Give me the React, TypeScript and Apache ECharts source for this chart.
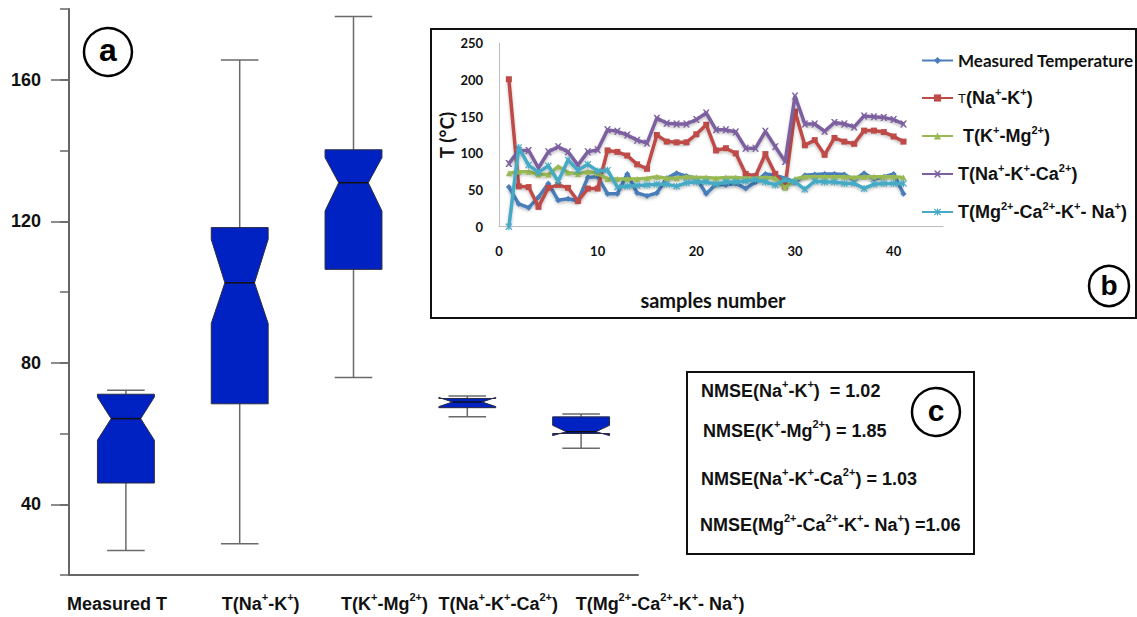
import React, { useEffect, useRef } from 'react';
import * as echarts from 'echarts';

// ---------- Box plot (a) ----------
const boxCategories = ['Measured T', 'T(Na+-K+)', 'T(K+-Mg2+)', 'T(Na+-K+-Ca2+)', 'T(Mg2+-Ca2+-K+- Na+)'];
const boxCategoryLabels = [
  '{r1|Measured T}',
  '{l2|T(Na}{s|+}{n|-K}{s|+}{n|)}',
  '{l3|T(K}{s|+}{n|-Mg}{s|2+}{n|)}',
  '{l4|T(Na}{s|+}{n|-K}{s|+}{n|-Ca}{s|2+}{n|)}',
  '{l5|T(Mg}{s|2+}{n|-Ca}{s|2+}{n|-K}{s|+}{n|- Na}{s|+}{n|)}',
];
const boxMin = [26.9, 28.8, 75.8, 64.7, 55.8];
const boxQ1 = [46.0, 68.4, 106.4, 67.3, 60.0];
const boxMedian = [64.2, 102.6, 130.9, 68.9, 60.5];
const boxQ3 = [71.1, 118.2, 140.2, 69.9, 64.7];
const boxMax = [72.2, 165.6, 177.9, 70.6, 65.5];
const notchLow = [58.1, 91.1, 122.9, 67.6, 59.4];
const notchHigh = [70.3, 114.9, 138.0, 70.2, 62.3];

// ---------- Line chart (b) ----------
const samples = [1, 2, 3, 4, 5, 6, 7, 8, 9, 10, 11, 12, 13, 14, 15, 16, 17, 18, 19, 20, 21, 22, 23, 24, 25, 26, 27, 28, 29, 30, 31, 32, 33, 34, 35, 36, 37, 38, 39, 40, 41];
const measuredT = [54, 31, 26, 40, 59, 36, 38, 35, 67, 68, 45, 45, 72, 46, 42, 46, 66, 73, 69, 66, 45, 58, 57, 59, 52, 61, 72, 70, 66, 61, 70, 71, 72, 72, 71, 64, 73, 65, 68, 72, 45];
const tNaK = [201, 55, 54, 27, 53, 57, 53, 35, 52, 52, 104, 102, 97, 85, 79, 125, 116, 115, 115, 126, 139, 104, 107, 100, 72, 69, 99, 72, 55, 157, 111, 118, 98, 121, 116, 113, 131, 131, 129, 123, 116];
const tKMg = [73, 75, 75, 71, 71, 82, 74, 72, 75, 73, 65, 65, 65, 65, 66, 68, 66, 66, 68, 67, 67, 66, 67, 67, 66, 66, 67, 66, 53, 65, 68, 68, 68, 68, 68, 67, 68, 68, 68, 68, 67];
const tNaKCa = [86, 104, 104, 80, 102, 109, 102, 84, 102, 105, 132, 130, 125, 118, 114, 148, 141, 140, 140, 146, 155, 132, 132, 129, 107, 107, 130, 109, 89, 178, 140, 140, 130, 142, 140, 136, 151, 150, 149, 146, 140];
const tMgCaKNa = [0, 108, 84, 74, 83, 62, 91, 77, 85, 76, 77, 54, 55, 56, 57, 58, 58, 55, 60, 61, 61, 58, 61, 61, 62, 64, 61, 57, 64, 61, 51, 62, 61, 61, 59, 59, 52, 58, 59, 59, 59];
const lineSeriesNames = ['Measured Temperature', 'T(Na+-K+)', 'T(K+-Mg2+)', 'T(Na+-K+-Ca2+)', 'T(Mg2+-Ca2+-K+- Na+)'];
const lineLegendLabels = [
  '{c|Measured Temperature}',
  '{t|T}{n|(Na}{s|+}{n|-K}{s|+}{n|)}',
  '{n| T(K}{s|+}{n|-Mg}{s|2+}{n|)}',
  '{n|T(Na}{s|+}{n|-K}{s|+}{n|-Ca}{s|2+}{n|)}',
  '{n|T(Mg}{s|2+}{n|-Ca}{s|2+}{n|-K}{s|+}{n|- Na}{s|+}{n|)}',
];
const lineColors = ['#4A7EBB', '#BE4B48', '#98B954', '#7D60A0', '#46AAC5'];

// ---------- NMSE box (c) ----------
const nmseLines = [
  '{n|NMSE(Na}{s|+}{n|-K}{s|+}{n|)  = 1.02}',
  '{n|NMSE(K}{s|+}{n|-Mg}{s|2+}{n|) = 1.85}',
  '{n|NMSE(Na}{s|+}{n|-K}{s|+}{n|-Ca}{s|2+}{n|) = 1.03}',
  '{n|NMSE(Mg}{s|2+}{n|-Ca}{s|2+}{n|-K}{s|+}{n|- Na}{s|+}{n|) =1.06}',
];

const ARIAL = '"Liberation Sans", Arial, sans-serif';
const CAL = 'Lato, "Open Sans", sans-serif';

const X_SYMBOL = 'path://M0,0 L2.5,0 L5,3 L7.5,0 L10,0 L6.3,5 L10,10 L7.5,10 L5,7 L2.5,10 L0,10 L3.7,5 Z';
const AST_SYMBOL = 'path://M0,1.2 L1.2,0 L5,3.8 L8.8,0 L10,1.2 L6.2,5 L10,8.8 L8.8,10 L5,6.2 L1.2,10 L0,8.8 L3.8,5 Z M4.2,0 L5.8,0 L5.8,10 L4.2,10 Z';
const lineSymbols = ['diamond', 'rect', 'triangle', X_SYMBOL, AST_SYMBOL];

export default function App() {
  const ref = useRef<HTMLDivElement>(null);
  useEffect(() => {
    if (!ref.current) return;
    const chart = echarts.init(ref.current, null, { renderer: 'svg' });

    const boxData = boxCategories.map((_, i) => [i, boxMin[i], boxQ1[i], boxMedian[i], boxQ3[i], boxMax[i], notchLow[i], notchHigh[i]]);
    const lineValues = [measuredT, tNaK, tKMg, tNaKCa, tMgCaKNa];

    const nMain = { fontSize: 18, fontWeight: 'bold', fontFamily: ARIAL, color: '#111', lineHeight: 26 };
    const supRichMain = {
      n: nMain,
      r1: { ...nMain, padding: [0, 18, 0, 0] },
      l2: { ...nMain, padding: [0, 0, 0, 42] },
      l3: { ...nMain, padding: [0, 0, 0, 62] },
      l4: { ...nMain, padding: [0, 0, 0, 62] },
      l5: { ...nMain, padding: [0, 0, 0, 158] },
      s: { fontSize: 11, fontWeight: 'bold', fontFamily: ARIAL, color: '#111', lineHeight: 12, verticalAlign: 'top' },
    };
    const supRichLegend = {
      c: { fontSize: 17, fontWeight: 'bold', fontFamily: CAL, color: '#111', lineHeight: 24 },
      t: { fontSize: 13, fontWeight: 'normal', fontFamily: ARIAL, color: '#111', lineHeight: 24 },
      n: { fontSize: 18, fontWeight: 'bold', fontFamily: ARIAL, color: '#111', lineHeight: 24 },
      s: { fontSize: 11, fontWeight: 'bold', fontFamily: ARIAL, color: '#111', lineHeight: 11, verticalAlign: 'top' },
    };
    const supRichC = {
      n: { fontSize: 18, fontWeight: 'bold', fontFamily: ARIAL, fill: '#111', color: '#111', lineHeight: 26 },
      s: { fontSize: 11, fontWeight: 'bold', fontFamily: ARIAL, fill: '#111', color: '#111', lineHeight: 11, verticalAlign: 'top' },
    };

    const cCenters = [391, 431, 479, 525];
    const cLefts = [701, 703, 701, 700];

    // main value axis: 20..180 over y = 575..9
    const pxPerUnit = 566 / 160;

    const option: any = {
      animation: false,
      backgroundColor: '#ffffff',
      grid: [
        { left: 69, top: 9, width: 569, height: 566 },
        { left: 499, top: 43.3, width: 444, height: 183.4 },
        // helper grid for the long, labelled ticks (40..160, same scale as the main axis)
        { left: 69, top: 9 + 20 * pxPerUnit, width: 569, height: 120 * pxPerUnit },
      ],
      xAxis: [
        {
          type: 'category',
          gridIndex: 0,
          data: boxCategories,
          axisLine: { lineStyle: { color: '#666', width: 2 } },
          axisTick: { alignWithLabel: true, length: 10, lineStyle: { color: '#666', width: 1.5 } },
          axisLabel: {
            interval: 0,
            margin: 16,
            formatter: (_v: string, i: number) => boxCategoryLabels[i],
            rich: supRichMain,
          },
          splitLine: { show: false },
        },
        {
          type: 'value',
          gridIndex: 1,
          min: 0,
          max: 45,
          interval: 10,
          axisLine: { lineStyle: { color: '#bdbdbd', width: 1 } },
          axisTick: { show: false },
          axisLabel: { showMaxLabel: false, margin: 18, fontSize: 13, fontWeight: 'bold', fontFamily: CAL, color: '#111' },
          splitLine: { show: false },
          name: 'samples number',
          nameLocation: 'middle',
          nameGap: 63,
          nameTextStyle: { fontSize: 20, fontWeight: 'bold', fontFamily: CAL, color: '#111', padding: [0, 16, 0, 0] },
        },
        {
          type: 'value',
          gridIndex: 2,
          show: false,
        },
      ],
      yAxis: [
        {
          type: 'value',
          gridIndex: 0,
          min: 20,
          max: 180,
          interval: 20,
          axisLine: { show: true, lineStyle: { color: '#666', width: 2 } },
          axisTick: { show: true, length: 9, lineStyle: { color: '#666', width: 1.5 } },
          axisLabel: { show: false },
          splitLine: { show: false },
        },
        {
          type: 'value',
          gridIndex: 1,
          min: 0,
          max: 250,
          interval: 50,
          axisLine: { show: true, lineStyle: { color: '#bdbdbd', width: 1 } },
          axisTick: { show: false },
          axisLabel: { margin: 16, fontSize: 13, fontWeight: 'bold', fontFamily: CAL, color: '#111' },
          splitLine: { show: false },
          name: 'T (°C)',
          nameLocation: 'middle',
          nameRotate: 90,
          nameGap: 43,
          nameTextStyle: { fontSize: 19, fontWeight: 'bold', fontFamily: CAL, color: '#111' },
        },
        {
          type: 'value',
          gridIndex: 2,
          min: 40,
          max: 160,
          interval: 40,
          axisLine: { show: false },
          axisTick: { show: true, length: 18, lineStyle: { color: '#666', width: 1.5 } },
          axisLabel: {
            margin: 28,
            fontSize: 18,
            fontWeight: 'bold',
            fontFamily: ARIAL,
            color: '#111',
          },
          splitLine: { show: false },
        },
      ],
      legend: {
        orient: 'vertical',
        left: 916,
        top: 47,
        itemGap: 17,
        itemWidth: 31,
        itemHeight: 9,
        data: lineSeriesNames,
        formatter: (name: string) => lineLegendLabels[lineSeriesNames.indexOf(name)],
        textStyle: { rich: supRichLegend },
        selectedMode: false,
      },
      series: [
        {
          type: 'custom',
          name: 'boxes',
          xAxisIndex: 0,
          yAxisIndex: 0,
          data: boxData,
          encode: { x: 0, y: [1, 2, 3, 4, 5, 6, 7] },
          z: 5,
          renderItem: (_params: any, api: any) => {
            const x = api.value(0);
            const lo = api.value(1);
            const q1 = api.value(2);
            const med = api.value(3);
            const q3 = api.value(4);
            const hi = api.value(5);
            const nlo = api.value(6);
            const nhi = api.value(7);
            const band = api.size([1, 0])[0];
            const hw = band * 0.25;
            const ww = hw * 0.52;
            const cw = band * 0.165;
            const cx = api.coord([x, med])[0];
            const y = (v: number) => api.coord([x, v])[1];
            const whisk = { stroke: '#6a6a6a', lineWidth: 1.5 };
            const poly = [
              [cx - hw, y(q1)], [cx - hw, y(nlo)], [cx - ww, y(med)], [cx - hw, y(nhi)], [cx - hw, y(q3)],
              [cx + hw, y(q3)], [cx + hw, y(nhi)], [cx + ww, y(med)], [cx + hw, y(nlo)], [cx + hw, y(q1)],
            ];
            return {
              type: 'group',
              children: [
                { type: 'line', shape: { x1: cx, y1: y(q3), x2: cx, y2: y(hi) }, style: whisk },
                { type: 'line', shape: { x1: cx, y1: y(q1), x2: cx, y2: y(lo) }, style: whisk },
                { type: 'line', shape: { x1: cx - cw, y1: y(hi), x2: cx + cw, y2: y(hi) }, style: whisk },
                { type: 'line', shape: { x1: cx - cw, y1: y(lo), x2: cx + cw, y2: y(lo) }, style: whisk },
                { type: 'polygon', shape: { points: poly }, style: { fill: '#0022C2', stroke: '#2a2a40', lineWidth: 1 } },
                { type: 'line', shape: { x1: cx - ww, y1: y(med), x2: cx + ww, y2: y(med) }, style: { stroke: '#111', lineWidth: 1.5 } },
              ],
            };
          },
        },
        ...lineSeriesNames.map((name, k) => ({
          type: 'line',
          name,
          xAxisIndex: 1,
          yAxisIndex: 1,
          data: samples.map((s, i) => [s, lineValues[k][i]]),
          symbol: lineSymbols[k],
          symbolSize: k >= 3 ? 7 : 6,
          showSymbol: true,
          color: lineColors[k],
          lineStyle: { width: 3.5, color: lineColors[k], shadowBlur: 3, shadowColor: 'rgba(0,0,0,0.25)', shadowOffsetY: 2 },
          itemStyle: { color: lineColors[k] },
          z: 3 + k,
        })),
      ],
      graphic: [
        { type: 'rect', shape: { x: 431, y: 29, width: 705, height: 289 }, style: { fill: 'none', stroke: '#111', lineWidth: 2 }, z: 1 },
        { type: 'rect', shape: { x: 687, y: 372, width: 287, height: 182 }, style: { fill: 'none', stroke: '#111', lineWidth: 2 }, z: 1 },
        { type: 'circle', shape: { cx: 108, cy: 52, r: 24 }, style: { fill: 'none', stroke: '#000', lineWidth: 2.5 }, z: 10 },
        { type: 'text', x: 108, y: 50, style: { text: 'a', fontSize: 32, fontWeight: 'bold', fontFamily: ARIAL, fill: '#000', align: 'center', verticalAlign: 'middle' }, z: 10 },
        { type: 'circle', shape: { cx: 1109, cy: 286, r: 20 }, style: { fill: 'none', stroke: '#000', lineWidth: 2.5 }, z: 10 },
        { type: 'text', x: 1109, y: 285, style: { text: 'b', fontSize: 28, fontWeight: 'bold', fontFamily: ARIAL, fill: '#000', align: 'center', verticalAlign: 'middle' }, z: 10 },
        { type: 'circle', shape: { cx: 936, cy: 412, r: 24 }, style: { fill: 'none', stroke: '#000', lineWidth: 2.5 }, z: 10 },
        { type: 'text', x: 936, y: 410, style: { text: 'c', fontSize: 30, fontWeight: 'bold', fontFamily: ARIAL, fill: '#000', align: 'center', verticalAlign: 'middle' }, z: 10 },
        ...nmseLines.map((t, i) => ({
          type: 'text',
          x: cLefts[i],
          y: cCenters[i] - 13,
          z: 10,
          style: { text: t, rich: supRichC, fill: '#111', align: 'left', verticalAlign: 'top' },
        })),
      ],
    };

    chart.setOption(option);
    return () => chart.dispose();
  }, []);

  return (
    <div
      ref={ref}
      style={{ position: 'fixed', left: 0, top: 0, width: 1137, height: 617, background: '#fff' }}
    />
  );
}
